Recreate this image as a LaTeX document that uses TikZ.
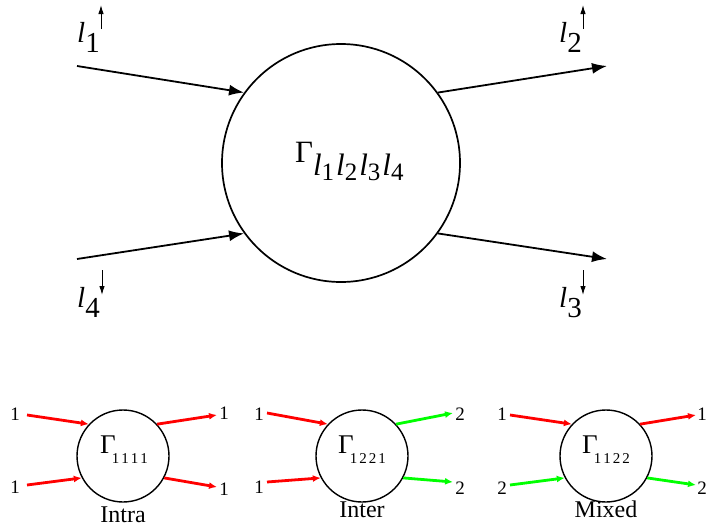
\documentclass[tikz,border=0pt]{standalone}
\usepackage{fontspec}
\setmainfont{Liberation Serif}
\usepackage{tikz}
\usetikzlibrary{arrows.meta,calc}

\newcommand{\spinlab}[1]{\fontsize{29}{29}\selectfont\textit{l}\raisebox{-10pt}{#1}}
\newcommand{\lsub}[1]{\textit{l}\raisebox{-5pt}{\fontsize{25}{25}\selectfont #1}\kern2pt}
\newcommand{\biggam}{\fontsize{31}{31}\selectfont Γ\raisebox{-13pt}{\lsub{1}\lsub{2}\lsub{3}\lsub{4}}}
\newcommand{\smallgam}[4]{{\fontsize{27}{27}\selectfont Γ}\kern-4pt\raisebox{-10pt}{\fontsize{15}{15}\selectfont #1\kern2pt#2\kern2pt#3\kern2pt#4}}

\begin{document}
\begin{tikzpicture}[x=1pt,y=-1pt,
    bigarrow/.style={line width=1.8pt,-{Latex[length=15pt,width=11pt]}},
    spinarrow/.style={line width=1pt,-{Latex[length=9pt,width=5.5pt]}},
    redarrow/.style={red,line width=2.8pt,-{Latex[length=8pt,width=7pt]}},
    greenarrow/.style={green,line width=2.8pt,-{Latex[length=8pt,width=7pt]}},
    vertex/.style={circle,draw,inner sep=0pt},
    lab/.style={inner sep=0pt,font=\fontsize{19}{19}\selectfont},
    caption/.style={inner sep=0pt,anchor=base,font=\fontsize{24}{24}\selectfont}]
    \useasboundingbox (0,0) rectangle (707,530);
    % big vertex
    \node[vertex,line width=1.7pt,minimum size=238pt] (G) at (341,163) {};
    \node[anchor=base west,inner sep=0pt] (Glab) at (295,162) {\biggam};
    \coordinate (in1) at (77,66);
    \coordinate (out2) at (607,66);
    \coordinate (in4) at (77,259);
    \coordinate (out3) at (607,259);
    \draw[bigarrow] (in1) -- (G.144);
    \draw[bigarrow] (in4) -- (G.216);
    \draw[bigarrow] (G.36) -- (out2);
    \draw[bigarrow] (G.324) -- (out3);
    % spin labels
    \node[anchor=base west,inner sep=0pt] (l1) at (77,42) {\spinlab{1}};
    \node[anchor=base west,inner sep=0pt] (l2) at (559,42) {\spinlab{2}};
    \node[anchor=base west,inner sep=0pt] (l4) at (77,307) {\spinlab{4}};
    \node[anchor=base west,inner sep=0pt] (l3) at (559,307) {\spinlab{3}};
    \coordinate (s1a) at (101,29); \coordinate (s1b) at (101,5);
    \coordinate (s2a) at (583,29); \coordinate (s2b) at (583,5);
    \coordinate (s4a) at (102,270); \coordinate (s4b) at (102,295);
    \coordinate (s3a) at (583,270); \coordinate (s3b) at (583,295);
    \draw[spinarrow] (s1a) -- (s1b);
    \draw[spinarrow] (s2a) -- (s2b);
    \draw[spinarrow] (s4a) -- (s4b);
    \draw[spinarrow] (s3a) -- (s3b);
    % intra
    \begin{scope}[shift={(123,456)}]
        \node[vertex,line width=1.4pt,minimum size=92pt] (A) at (0,0) {};
        \node[anchor=base west,inner sep=0pt] (Alab) at (-23,-3) {\smallgam{1}{1}{1}{1}};
        \coordinate (a1) at (-96,-41);
        \coordinate (a4) at (-96,29);
        \coordinate (a2) at (94,-41);
        \coordinate (a3) at (94,31);
        \draw[redarrow] (a1) -- (A.137);
        \draw[redarrow] (a4) -- (A.208);
        \draw[redarrow] (A.43) -- (a2);
        \draw[redarrow] (A.332) -- (a3);
        \node[lab] (na1) at (-108,-42) {1};
        \node[lab] (na4) at (-108,31) {1};
        \node[lab] (na2) at (101,-43) {1};
        \node[lab] (na3) at (101,33) {1};
        \node[caption] (ta) at (0,66) {Intra};
    \end{scope}
    % inter
    \begin{scope}[shift={(362,456)}]
        \node[vertex,line width=1.4pt,minimum size=92pt] (B) at (0,0) {};
        \node[anchor=base west,inner sep=0pt] (Blab) at (-24,-3) {\smallgam{1}{2}{2}{1}};
        \coordinate (b1) at (-95,-43);
        \coordinate (b4) at (-95,26);
        \coordinate (b2) at (91,-43);
        \coordinate (b3) at (91,26);
        \draw[redarrow] (b1) -- (B.137);
        \draw[redarrow] (b4) -- (B.208);
        \draw[greenarrow] (B.43) -- (b2);
        \draw[greenarrow] (B.332) -- (b3);
        \node[lab] (nb1) at (-103,-42) {1};
        \node[lab] (nb4) at (-103,31) {1};
        \node[lab] (nb2) at (98,-42) {2};
        \node[lab] (nb3) at (98,32) {2};
        \node[caption] (tb) at (0,61) {Inter};
    \end{scope}
    % mixed
    \begin{scope}[shift={(606,456)}]
        \node[vertex,line width=1.4pt,minimum size=92pt] (C) at (0,0) {};
        \node[anchor=base west,inner sep=0pt] (Clab) at (-24,-3) {\smallgam{1}{1}{2}{2}};
        \coordinate (c1) at (-96,-41);
        \coordinate (c4) at (-96,29);
        \coordinate (c2) at (90,-41);
        \coordinate (c3) at (90,29);
        \draw[redarrow] (c1) -- (C.137);
        \draw[greenarrow] (c4) -- (C.208);
        \draw[redarrow] (C.43) -- (c2);
        \draw[greenarrow] (C.332) -- (c3);
        \node[lab] (nc1) at (-104,-42) {1};
        \node[lab] (nc4) at (-104,32) {2};
        \node[lab,anchor=east] (nc2) at (101,-42) {1};
        \node[lab,anchor=east] (nc3) at (101,32) {2};
        \node[caption] (tc) at (0,61) {Mixed};
    \end{scope}
\end{tikzpicture}
\end{document}
